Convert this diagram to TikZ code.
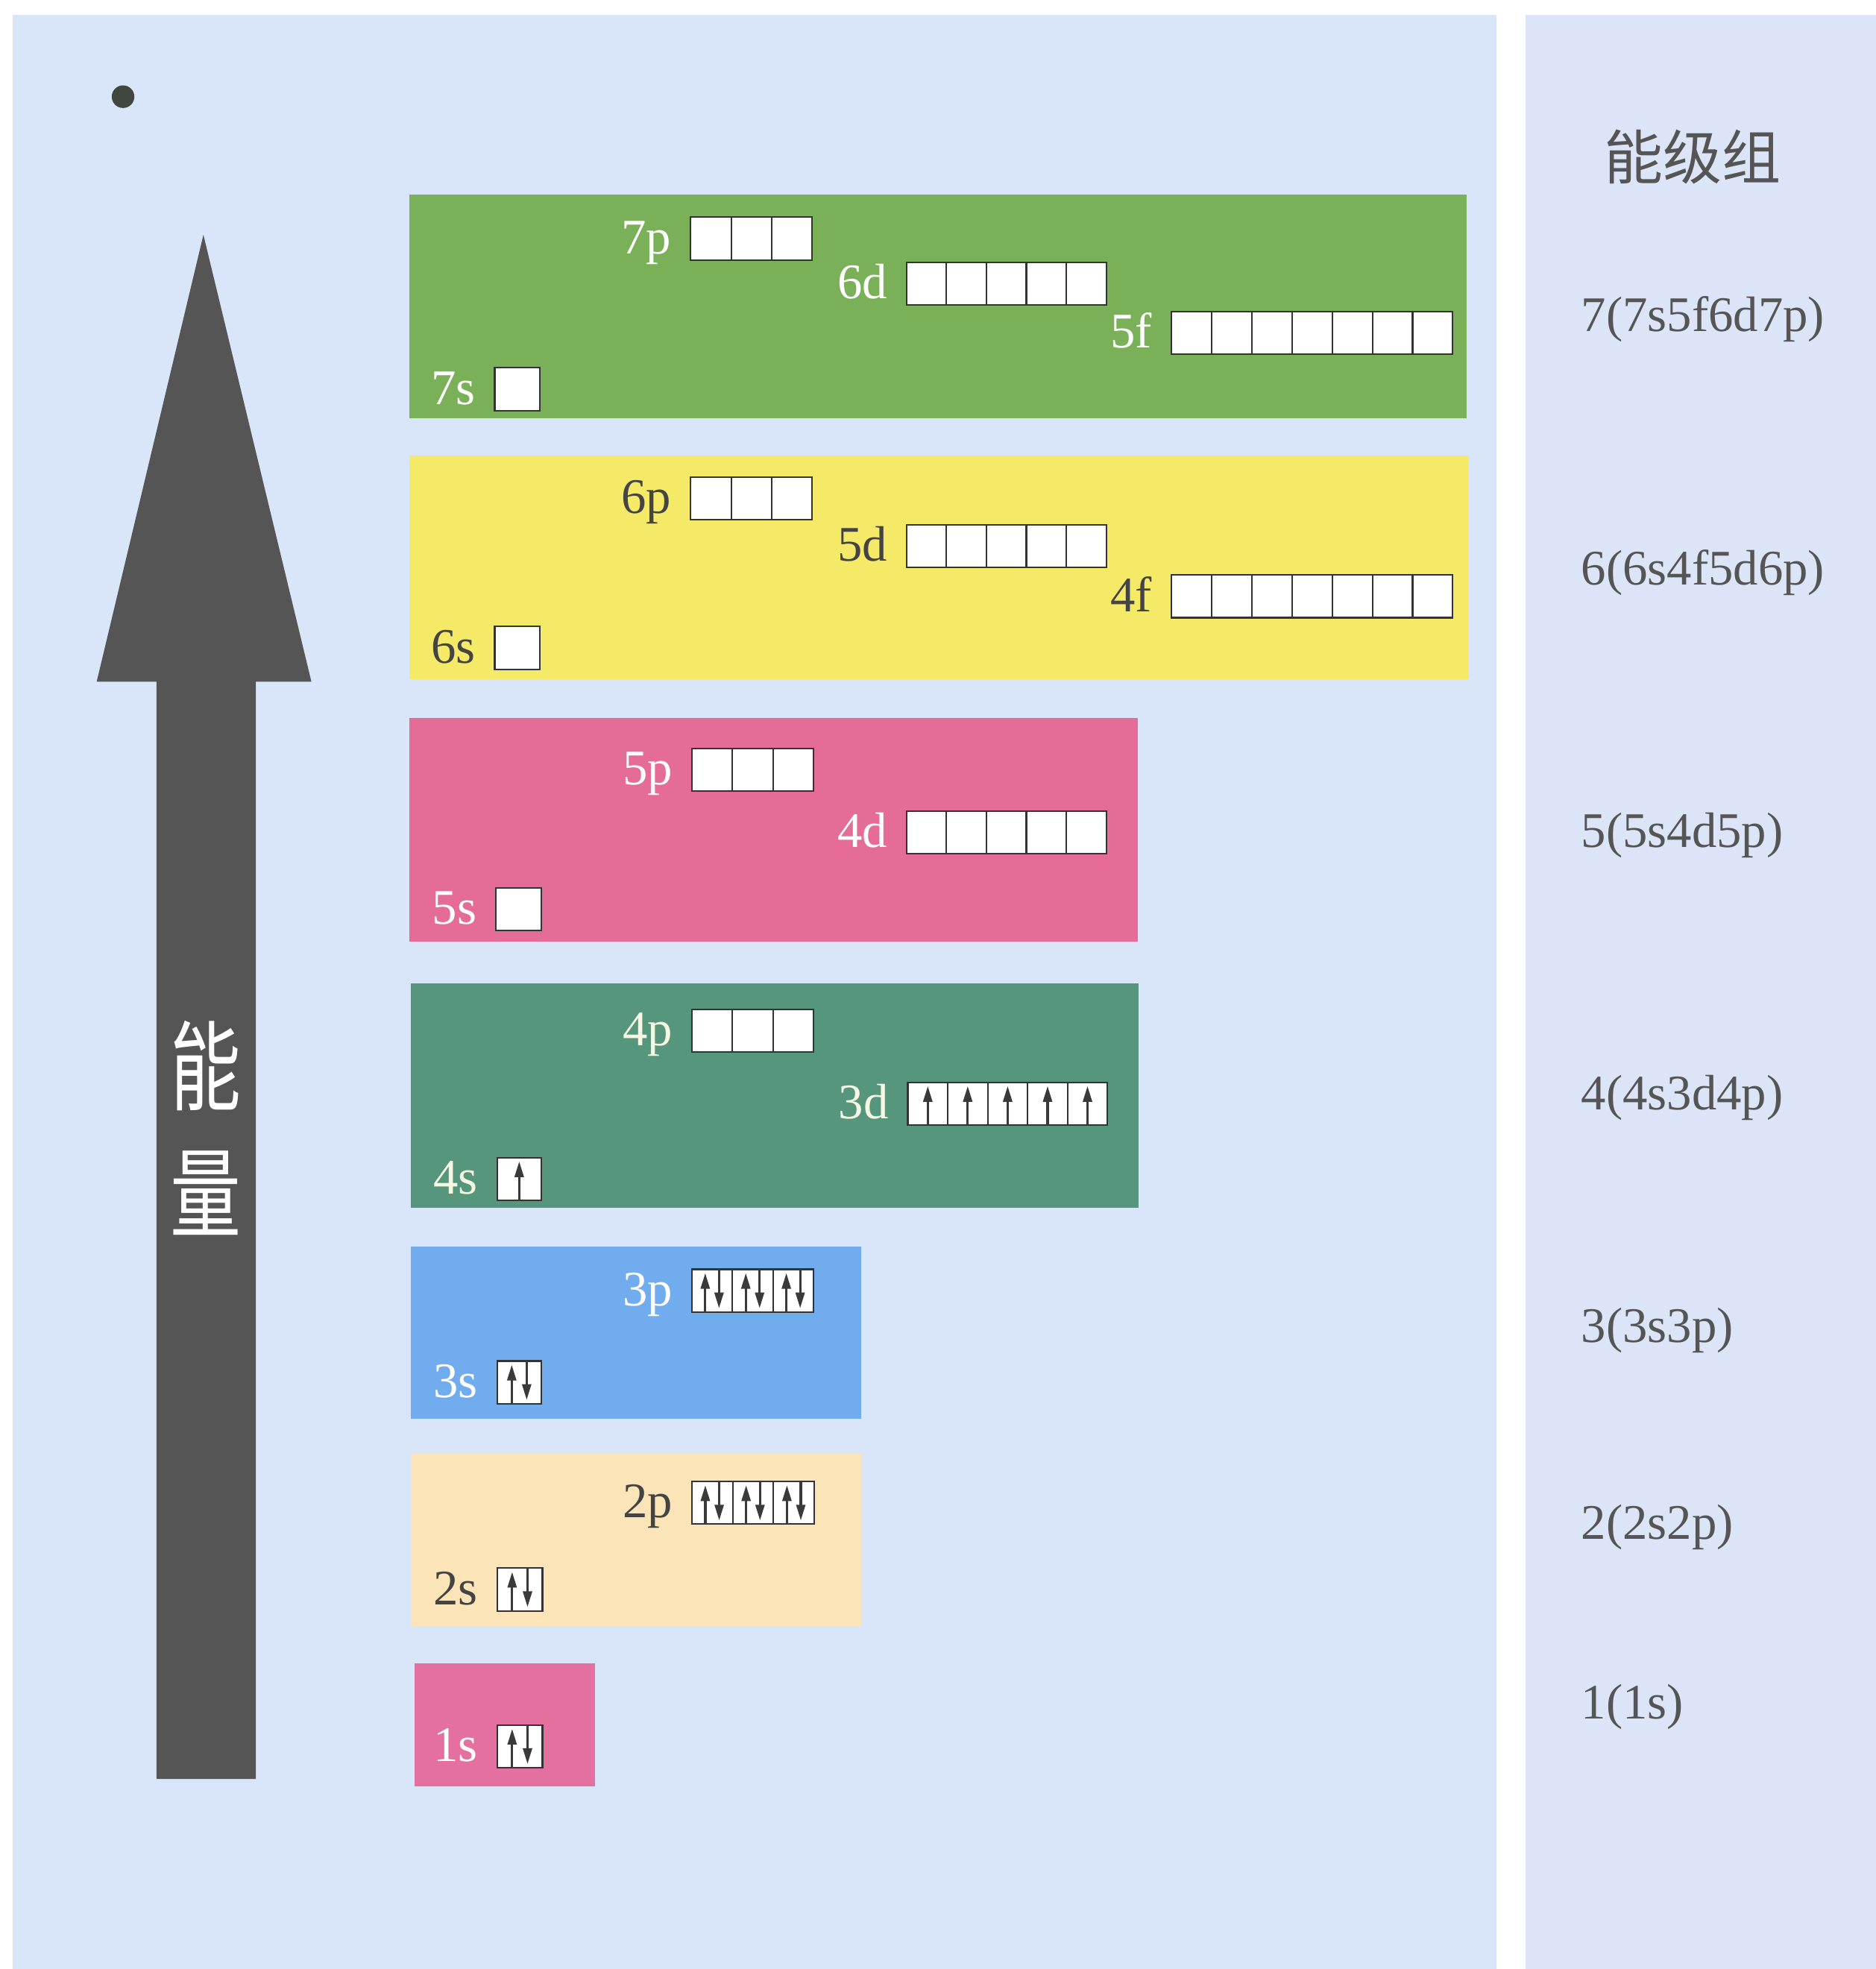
\documentclass[tikz,border=0pt]{standalone}
\usepackage{fontspec}
\usepackage{graphicx}
\setmainfont{Liberation Serif}
\newfontfamily\cjk{Noto Sans CJK SC}
\usetikzlibrary{arrows.meta}
\definecolor{panelL}{HTML}{D9E6F9}
\definecolor{panelR}{HTML}{DCE5F8}
\definecolor{gSeven}{HTML}{7AB058}
\definecolor{gSix}{HTML}{F5E968}
\definecolor{gFive}{HTML}{E46C96}
\definecolor{gFour}{HTML}{56967C}
\definecolor{gThree}{HTML}{70ACEE}
\definecolor{gTwo}{HTML}{FAE4B8}
\definecolor{gOne}{HTML}{E470A0}
\definecolor{arrowgray}{HTML}{555555}
\definecolor{txtgray}{HTML}{555555}
\definecolor{darklbl}{HTML}{444444}
\definecolor{lightlbl}{HTML}{F6F8E4}
\definecolor{dotgray}{HTML}{3F473F}
\definecolor{cellline}{HTML}{333333}
\definecolor{eleccol}{HTML}{3A3A3A}
\tikzset{
  lbl/.style={font=\fontsize{19}{22}\selectfont, inner sep=0pt},
  grplbl/.style={font=\fontsize{19}{22}\selectfont, inner sep=0pt, text=txtgray, anchor=base west},
  cellst/.style={draw=cellline, fill=white, line width=0.6pt},
  elec/.style={draw=eleccol, line width=0.9pt, -{Triangle[length=6pt,width=3.4pt]}},
}
% #1 name, #2 label, #3 label colour, #4 x left, #5 y top, #6 n cells, #7 cell width, #8 type (0 empty, 1 up, 2 pair)
\newcommand\orbital[8]{%
  \node[lbl, text=#3, anchor=base east] (#1) at ({#4-15},{#5+29}) {#2};
  \foreach \i in {1,...,#6}{%
    \draw[cellst] ({#4+(\i-1)*#7},{#5}) rectangle ++(#7,34);
    \ifnum#8=1
      \draw[elec] ({#4+(\i-0.5)*#7},{#5+34}) -- ({#4+(\i-0.5)*#7},{#5+3});
    \fi
    \ifnum#8=2
      \draw[elec] ({#4+(\i-0.67)*#7},{#5+34}) -- ({#4+(\i-0.67)*#7},{#5+3});
      \draw[elec] ({#4+(\i-0.33)*#7},{#5}) -- ({#4+(\i-0.33)*#7},{#5+31});
    \fi
  }%
}
\begin{document}
\begin{tikzpicture}[x=0.01684cm, y=-0.01684cm]
\useasboundingbox (0,0) rectangle (1494,1568.3);
\fill[white] (0,0) rectangle (1494,1568.3);
% panels
\fill[panelL] (10,12) rectangle (1192,1568.3);
\fill[panelR] (1215,12) rectangle (1494,1568.3);
% dot
\fill[dotgray] (98,77) circle (9);
% energy arrow
\fill[arrowgray] (124.7,1417) -- (124.7,543) -- (77,543) -- (162,187) -- (248,543) -- (203.7,543) -- (203.7,1417) -- cycle;
\node[text=white, inner sep=0pt] (neng) at (164,849) {\cjk\fontsize{27}{27}\selectfont\scalebox{1}[1.38]{能}};
\node[text=white, inner sep=0pt] (liang) at (164,950) {\cjk\fontsize{27}{27}\selectfont\scalebox{1}[1.38]{量}};
% group boxes
\fill[gSeven] (326,155) rectangle (1168,333);
\fill[gSix] (326,363) rectangle (1170,541);
\fill[gFive] (326,572) rectangle (906,750);
\fill[gFour] (327,783) rectangle (907,962);
\fill[gThree] (327,993) rectangle (686,1130);
\fill[gTwo] (327,1158) rectangle (686,1296);
\fill[gOne] (330,1325) rectangle (474,1423);
% orbitals
\orbital{o7p}{7p}{white}{550}{173}{3}{32.3}{0}
\orbital{o6d}{6d}{white}{722}{209}{5}{31.8}{0}
\orbital{o5f}{5f}{white}{933}{248}{7}{32}{0}
\orbital{o7s}{7s}{white}{394}{293}{1}{36}{0}
\orbital{o6p}{6p}{darklbl}{550}{380}{3}{32.3}{0}
\orbital{o5d}{5d}{darklbl}{722}{418}{5}{31.8}{0}
\orbital{o4f}{4f}{darklbl}{933}{458}{7}{32}{0}
\orbital{o6s}{6s}{darklbl}{394}{499}{1}{36}{0}
\orbital{o5p}{5p}{white}{551}{596}{3}{32.3}{0}
\orbital{o4d}{4d}{white}{722}{646}{5}{31.8}{0}
\orbital{o5s}{5s}{white}{395}{707}{1}{36}{0}
\orbital{o4p}{4p}{lightlbl}{551}{804}{3}{32.3}{0}
\orbital{o3d}{3d}{lightlbl}{723}{862}{5}{31.8}{1}
\orbital{o4s}{4s}{lightlbl}{396}{922}{1}{35}{1}
\orbital{o3p}{3p}{white}{551}{1011}{3}{32.3}{2}
\orbital{o3s}{3s}{white}{396}{1084}{1}{35}{2}
\orbital{o2p}{2p}{darklbl}{551}{1180}{3}{32.5}{2}
\orbital{o2s}{2s}{darklbl}{396}{1249}{1}{36}{2}
\orbital{o1s}{1s}{white}{396}{1374}{1}{36}{2}
% right column
\node[text=txtgray, inner sep=0pt] (title) at (1348,125) {\cjk\fontsize{22.5}{24}\selectfont 能级组};
\node[grplbl] (g7) at (1259,264) {7(7s5f6d7p)};
\node[grplbl] (g6) at (1259,466) {6(6s4f5d6p)};
\node[grplbl] (g5) at (1259,675) {5(5s4d5p)};
\node[grplbl] (g4) at (1259,884) {4(4s3d4p)};
\node[grplbl] (g3) at (1259,1069) {3(3s3p)};
\node[grplbl] (g2) at (1259,1226) {2(2s2p)};
\node[grplbl] (g1) at (1259,1369) {1(1s)};
\end{tikzpicture}
\end{document}
